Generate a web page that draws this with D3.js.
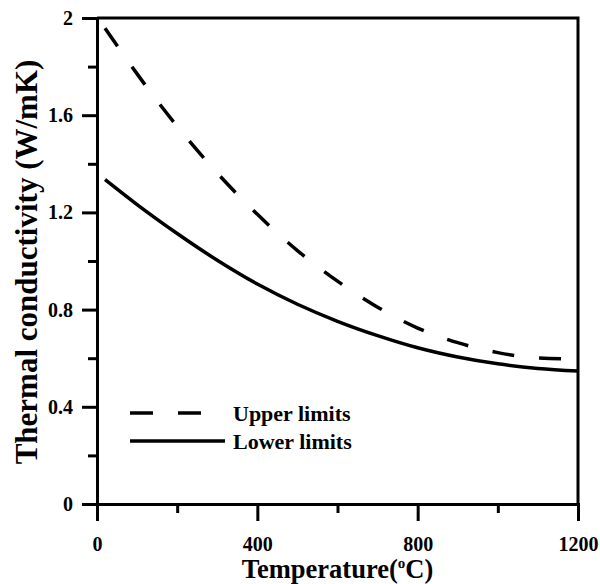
<!DOCTYPE html>
<html>
<head>
<meta charset="utf-8">
<script src="https://cdn.jsdelivr.net/npm/d3@7"></script>
<style>
  body { margin: 0; background: #fff; }
  text { font-family: "Liberation Serif", "Times New Roman", serif; font-weight: bold; fill: #000; }
</style>
</head>
<body>
<div id="chart"></div>
<script>
// values
var temps = [20, 100, 200, 300, 400, 500, 600, 700, 800, 900, 1000, 1100, 1200];
var upperK = [1.958, 1.77, 1.554, 1.362, 1.192, 1.043, 0.917, 0.81, 0.724, 0.664, 0.623, 0.601, 0.597];
var lowerK = [1.335, 1.232, 1.113, 1.003, 0.905, 0.822, 0.752, 0.693, 0.643, 0.605, 0.577, 0.558, 0.547];
var xMajor = [0, 400, 800, 1200];
var xMinor = [200, 600, 1000];
var yMajor = [0, 0.4, 0.8, 1.2, 1.6, 2];
var yMinor = [0.2, 0.6, 1.0, 1.4, 1.8];
var legendNames = ["Upper limits", "Lower limits"];

var width = 600, height = 584;
var plotL = 97, plotR = 578, plotT = 18, plotB = 504;

var x = d3.scaleLinear().domain([0, 1200]).range([plotL, plotR]);
var y = d3.scaleLinear().domain([0, 2]).range([plotB, plotT]);

var svg = d3.select("#chart").append("svg")
    .attr("width", width).attr("height", height);

var series = [
  { name: legendNames[0], values: upperK, dash: "22,25" },
  { name: legendNames[1], values: lowerK, dash: null }
];

var line = d3.line()
    .x(function(d) { return x(d[0]); })
    .y(function(d) { return y(d[1]); })
    .curve(d3.curveMonotoneX);

svg.selectAll("path.curve")
    .data(series)
  .enter().append("path")
    .attr("class", "curve")
    .attr("fill", "none")
    .attr("stroke", "#000")
    .attr("stroke-width", 3.5)
    .attr("stroke-dasharray", function(d) { return d.dash; })
    .attr("d", function(d) { return line(temps.map(function(t, i) { return [t, d.values[i]]; })); });

// frame: top and right edges with no ticks
svg.append("path")
    .attr("fill", "none").attr("stroke", "#000").attr("stroke-width", 3)
    .attr("d", "M" + plotL + "," + plotT + "H" + plotR + "V" + plotB);

// bottom axis
svg.append("g")
    .attr("transform", "translate(0," + plotB + ")")
    .call(d3.axisBottom(x).tickValues(xMajor).tickSize(17).tickPadding(16).tickFormat(d3.format("d")));
svg.append("g")
    .attr("transform", "translate(0," + plotB + ")")
    .call(d3.axisBottom(x).tickValues(xMinor).tickSize(9).tickFormat(""));

// left axis
svg.append("g")
    .attr("transform", "translate(" + plotL + ",0)")
    .call(d3.axisLeft(y).tickValues(yMajor).tickSize(15).tickPadding(9).tickFormat(function(d) { return String(+d.toFixed(1)); }));
svg.append("g")
    .attr("transform", "translate(" + plotL + ",0)")
    .call(d3.axisLeft(y).tickValues(yMinor).tickSize(9).tickFormat(""));

svg.selectAll(".domain").attr("stroke-width", 3).attr("stroke", "#000");
svg.selectAll(".tick line").attr("stroke-width", 3).attr("stroke", "#000");
svg.selectAll(".tick text").style("font-size", "20px").attr("font-family", null).attr("fill", "#000");

// axis titles
var xt = svg.append("text")
    .attr("x", (plotL + plotR) / 2)
    .attr("y", 578)
    .attr("text-anchor", "middle")
    .style("font-size", "26.5px");
xt.append("tspan").text("Temperature(");
xt.append("tspan").text("o").attr("dy", -10).style("font-size", "15px");
xt.append("tspan").text("C)").attr("dy", 10);

svg.append("text")
    .attr("transform", "translate(37,262) rotate(-90)")
    .attr("text-anchor", "middle")
    .style("font-size", "31px")
    .text("Thermal conductivity (W/mK)");

// legend
var legend = svg.selectAll("g.legend")
    .data(series)
  .enter().append("g")
    .attr("class", "legend")
    .attr("transform", function(d, i) { return "translate(130," + (413 + i * 28) + ")"; });

legend.append("line")
    .attr("x1", 0)
    .attr("x2", function(d) { return d.dash ? 72 : 95; })
    .attr("stroke", "#000")
    .attr("stroke-width", 3.5)
    .attr("stroke-dasharray", function(d) { return d.dash ? "23,25" : null; });

legend.append("text")
    .attr("x", 103)
    .attr("y", 8)
    .style("font-size", "22px")
    .text(function(d) { return d.name; });
</script>
</body>
</html>
